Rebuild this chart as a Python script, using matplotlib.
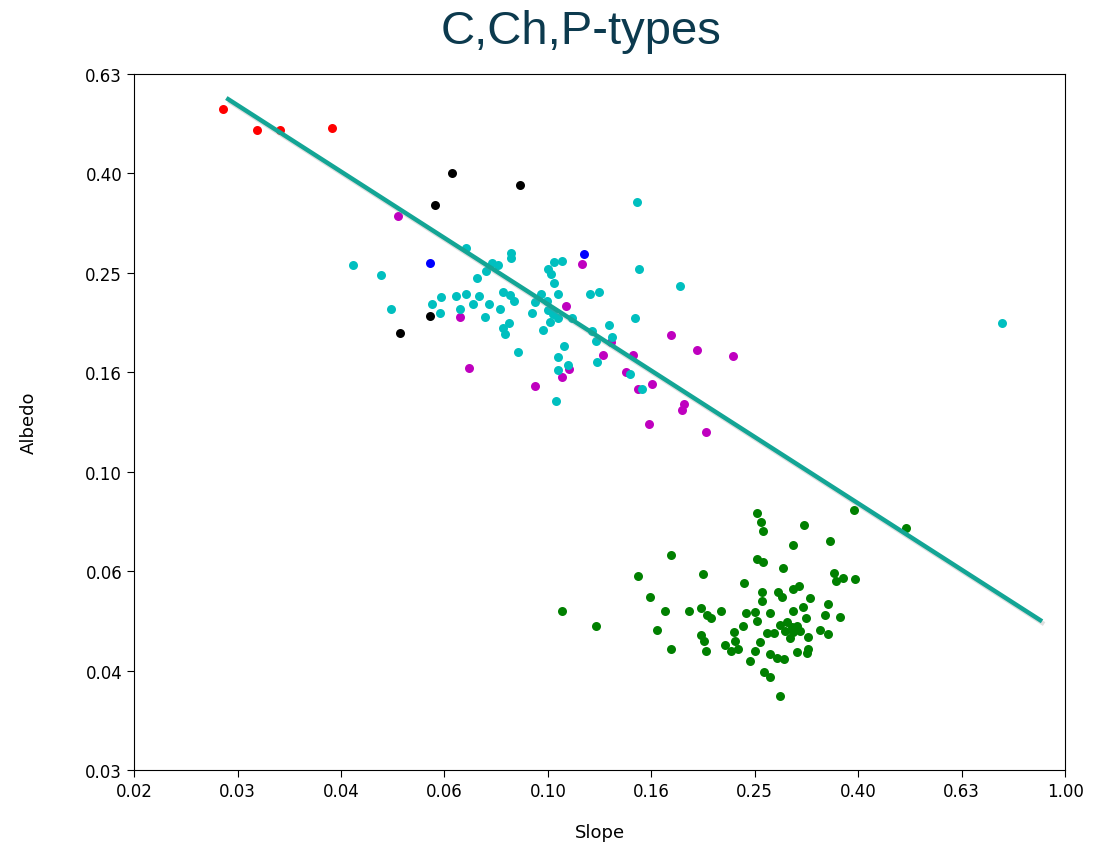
import numpy as np
import matplotlib
matplotlib.use('Agg')
import matplotlib.pyplot as plt
import matplotlib.patheffects as pe
from matplotlib.ticker import FormatStrFormatter, NullLocator

# slope / albedo per group
red_slope = [0.0236, 0.0274, 0.0304, 0.0383]
red_albedo = [0.537, 0.487, 0.487, 0.491]

black_slope = [0.0653, 0.0884, 0.0605, 0.0592, 0.0518]
black_albedo = [0.399, 0.377, 0.344, 0.206, 0.190]

blue_slope = [0.0592, 0.1175]
blue_albedo = [0.263, 0.274]

magenta_slope = [0.0513, 0.0677, 0.0704, 0.1165, 0.1082, 0.0945, 0.1065, 0.1099,
                 0.1279, 0.1325, 0.1461, 0.1417, 0.1494, 0.1591, 0.1731, 0.1944,
                 0.2276, 0.1834, 0.1818, 0.1570, 0.2023]
magenta_albedo = [0.327, 0.205, 0.162, 0.262, 0.215, 0.149, 0.155, 0.161,
                  0.172, 0.182, 0.172, 0.159, 0.147, 0.150, 0.188, 0.176,
                  0.171, 0.137, 0.133, 0.125, 0.120]

cyan_slope = [0.1488, 0.0420, 0.0476, 0.0498, 0.0695, 0.0849, 0.0849, 0.0780,
              0.0801, 0.0761, 0.0730, 0.0622, 0.0665, 0.0695, 0.0736, 0.0820,
              0.0845, 0.0862, 0.0597, 0.0618, 0.0677, 0.0718, 0.0768, 0.0807,
              0.0755, 0.0930, 0.0970, 0.0996, 0.0945, 0.1047, 0.1002, 0.1022,
              0.1010, 0.1045, 0.1112, 0.0977, 0.0820, 0.0843, 0.0827, 0.0877,
              0.1002, 0.1012, 0.1027, 0.1029, 0.1066, 0.1205, 0.1258, 0.1219,
              0.1312, 0.1333, 0.1238, 0.1073, 0.1046, 0.1092, 0.1046, 0.1247,
              0.1439, 0.1523, 0.1036, 0.1500, 0.1802, 0.1475, 0.755]
cyan_albedo = [0.349, 0.260, 0.249, 0.213, 0.282, 0.275, 0.269, 0.263,
               0.260, 0.253, 0.245, 0.225, 0.226, 0.228, 0.226, 0.230,
               0.227, 0.221, 0.217, 0.209, 0.213, 0.217, 0.217, 0.213,
               0.205, 0.209, 0.228, 0.221, 0.220, 0.228, 0.212, 0.208,
               0.200, 0.204, 0.204, 0.193, 0.195, 0.199, 0.189, 0.174,
               0.256, 0.250, 0.240, 0.264, 0.265, 0.228, 0.230, 0.192,
               0.197, 0.187, 0.183, 0.179, 0.170, 0.164, 0.160, 0.166,
               0.157, 0.147, 0.139, 0.256, 0.236, 0.204, 0.199]

green_slope = [0.2539, 0.2584, 0.2604, 0.3129, 0.3914, 0.4922, 0.3513, 0.2976,
               0.1728, 0.2535, 0.2611, 0.2854, 0.1497, 0.1991, 0.3572, 0.3723,
               0.3928, 0.3601, 0.2395, 0.1577, 0.2598, 0.2590, 0.2792, 0.2834,
               0.2984, 0.3063, 0.3214, 0.3486, 0.1064, 0.1238, 0.1685, 0.1878,
               0.1976, 0.2029, 0.2065, 0.2165, 0.1628, 0.1728, 0.1974, 0.2000,
               0.2023, 0.2417, 0.2516, 0.2693, 0.2542, 0.3431, 0.3668, 0.2980,
               0.3108, 0.3150, 0.2812, 0.2897, 0.2963, 0.2875, 0.2984, 0.2940,
               0.2291, 0.2385, 0.2301, 0.2335, 0.2261, 0.2201, 0.2650, 0.2740,
               0.3190, 0.3360, 0.3486, 0.2570, 0.2516, 0.2458, 0.2690, 0.2771,
               0.2858, 0.3029, 0.3190, 0.3167, 0.2617, 0.2693, 0.2809, 0.3027,
               0.3074]
green_albedo = [0.0826, 0.0791, 0.0761, 0.0782, 0.0837, 0.0769, 0.0724, 0.0711,
                0.0680, 0.0667, 0.0657, 0.0640, 0.0618, 0.0623, 0.0626, 0.0612,
                0.0608, 0.0602, 0.0597, 0.0561, 0.0573, 0.0550, 0.0572, 0.0561,
                0.0582, 0.0588, 0.0557, 0.0542, 0.0524, 0.0489, 0.0524, 0.0524,
                0.0531, 0.0515, 0.0509, 0.0524, 0.0480, 0.0440, 0.0469, 0.0456,
                0.0436, 0.0520, 0.0523, 0.0519, 0.0502, 0.0515, 0.0511, 0.0524,
                0.0534, 0.0508, 0.0492, 0.0498, 0.0488, 0.0479, 0.0475, 0.0464,
                0.0477, 0.0490, 0.0456, 0.0439, 0.0435, 0.0449, 0.0473, 0.0473,
                0.0466, 0.0481, 0.0472, 0.0454, 0.0435, 0.0417, 0.0429, 0.0422,
                0.0421, 0.0434, 0.0441, 0.0432, 0.0395, 0.0386, 0.0354, 0.0490,
                0.0478]

# trend line drawn over the plot: log10(albedo) = a + b*log10(slope)
fit_a = -1.3306
fit_b = -0.6675
fit_x = [0.0241, 0.895]

fig = plt.figure(figsize=(10.97, 8.53), dpi=100)
ax = fig.add_axes([0.1222, 0.0961, 0.8487, 0.8159])

groups = [(red_slope, red_albedo, 'r'),
          (black_slope, black_albedo, 'k'),
          (blue_slope, blue_albedo, 'b'),
          (magenta_slope, magenta_albedo, 'm'),
          (cyan_slope, cyan_albedo, 'c'),
          (green_slope, green_albedo, 'g')]
for xs, ys, col in groups:
    ax.scatter(xs, ys, s=42, c=col, linewidths=0, zorder=2)

ax.set_xscale('log')
ax.set_yscale('log')
ax.set_xlim(10**-1.8, 1.0)
ax.set_ylim(10**-1.6, 10**-0.2)
ax.set_xticks(10**np.arange(-1.8, 0.001, 0.2))
ax.set_yticks(10**np.arange(-1.6, -0.199, 0.2))
ax.xaxis.set_major_formatter(FormatStrFormatter('%.2f'))
ax.yaxis.set_major_formatter(FormatStrFormatter('%.2f'))
ax.xaxis.set_minor_locator(NullLocator())
ax.yaxis.set_minor_locator(NullLocator())
ax.tick_params(labelsize=12, length=5)
ax.set_xlabel('Slope', fontsize=13, labelpad=17)
ax.set_ylabel('Albedo', fontsize=13, labelpad=34)

lx = np.array(fit_x)
ly = 10**(fit_a + fit_b*np.log10(lx))
ax.plot(lx, ly, color='#13a595', lw=3.2, zorder=3, clip_on=False,
        path_effects=[pe.SimpleLineShadow(offset=(1.5, -2), alpha=0.25, shadow_color='gray'),
                      pe.Normal()])

fig.text(0.53, 0.963, 'C,Ch,P-types', fontsize=34, color='#0c3a4e',
         family=['Liberation Sans', 'DejaVu Sans'], ha='center', va='center')

fig.savefig('out.png', dpi=100)
